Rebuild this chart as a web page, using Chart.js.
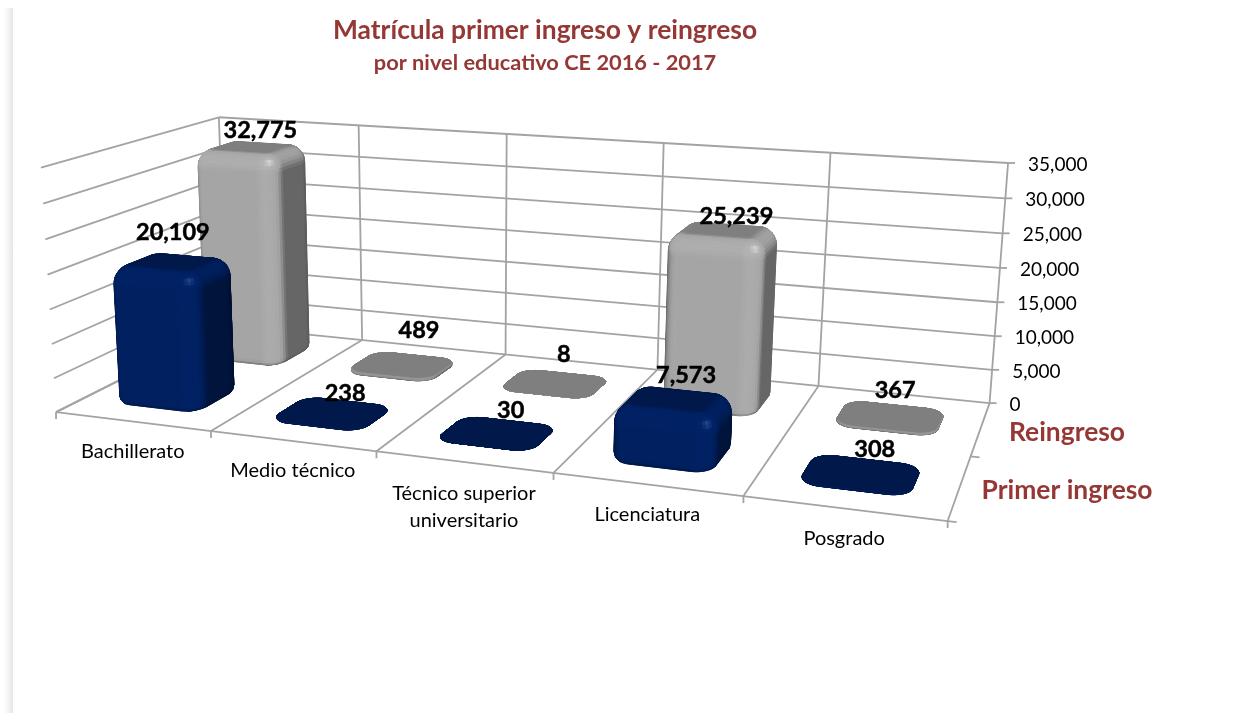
<!DOCTYPE html>
<html lang="es"><head><meta charset="utf-8">
<style>
html,body{margin:0;padding:0;background:#fff;width:1245px;height:713px;overflow:hidden}
#edge{position:absolute;left:4px;top:8px;width:8.5px;bottom:0;background:linear-gradient(to right,#ffffff,#e6e6e6)}
canvas{position:absolute;left:0;top:0}
</style></head><body>
<div id="edge"></div>
<canvas id="c" width="1245" height="713"></canvas>
<script src="https://cdn.jsdelivr.net/npm/chart.js@4"></script>
<script>
const categories = [['Bachillerato'],['Medio técnico'],['Técnico superior','universitario'],['Licenciatura'],['Posgrado']];
const primerIngreso = [20109,238,30,7573,308];
const reingreso = [32775,489,8,25239,367];
const valueTicks = [0,5000,10000,15000,20000,25000,30000,35000];
const seriesNames = ['Primer ingreso','Reingreso'];
const seriesColors = ['#002060','#a5a5a5'];
const titleText = 'Matrícula primer ingreso y reingreso';
const subtitleText = 'por nivel educativo CE 2016 - 2017';
/* hand placement of the value labels relative to each bar top: [dx, dy] per series */
const labelNudge = [
 [[1,-29],[13,-19],[14,-23],[12,-24],[14,-24]],
 [[9,-17],[17,-34],[9,-29],[13,-14],[5,-26]]
];

/* Frame of the 3-D box on the page: [u, depth, height, screenX, screenY] */
const frame = [
 [0,0,0,57,412],[.2,0,0,212,431],[.4,0,0,377,451],[.6,0,0,553,473],[.8,0,0,743,496],[1,0,0,948,521],
 [0,1,0,224,326],[.2,1,0,363,340],[.4,1,0,507,355],[.6,1,0,654,370],[.8,1,0,820,386],[1,1,0,990,403],
 [0,1,1,220,118],[.2,1,1,360,125],[.4,1,1,507,133],[.6,1,1,663,143],[.8,1,1,830,153],[1,1,1,1008,163],
 [0,0,1,39,168]
];
function fitProjection(pts){
  const n=11,A=Array.from({length:n},()=>Array(n+1).fill(0));
  const add=(r,b)=>{for(let i=0;i<n;i++){for(let j=0;j<n;j++)A[i][j]+=r[i]*r[j];A[i][n]+=r[i]*b;}};
  pts.forEach(([u,d,h,x,y])=>{
    add([u,d,h,1,0,0,0,0,-x*u,-x*d,-x*h],x);
    add([0,0,0,0,u,d,h,1,-y*u,-y*d,-y*h],y);
  });
  for(let i=0;i<n;i++){
    let p=i;for(let r=i+1;r<n;r++)if(Math.abs(A[r][i])>Math.abs(A[p][i]))p=r;
    [A[i],A[p]]=[A[p],A[i]];
    for(let r=0;r<n;r++)if(r!==i){const f=A[r][i]/A[i][i];for(let c=i;c<=n;c++)A[r][c]-=f*A[i][c];}
  }
  return A.map((r,i)=>r[n]/r[i]);
}
const M=fitProjection(frame);
function P(u,d,h){
  const w=M[8]*u+M[9]*d+M[10]*h+1;
  return {x:(M[0]*u+M[1]*d+M[2]*h+M[3])/w,y:(M[4]*u+M[5]*d+M[6]*h+M[7])/w};
}
const hex=c=>[1,3,5].map(i=>parseInt(c.substr(i,2),16));
function shade(rgb,nx,ny,nz,flat){
  let I=(ny<0?-ny:0)+(nz>0?nz*.77:-nz*.15)+(nx>0?nx*.62:-nx*.2);
  if(I>1)I=1+(I-1)*.22;
  if(flat)I=.77+(I-.77)*.5;
  const s=Math.max(0,(nx-ny+nz)*.577),sp=flat?0:Math.pow(s,60)*.24*255;
  return `rgb(${rgb.map(v=>Math.min(255,Math.round(v*I+sp))).join(',')})`;
}
function drawBar(ctx,u0,u1,d0,d1,h0,h1,color){
  const rgb=hex(color),H=h1-h0,flat=H<.03;
  if(flat){const t=(d1-d0)*.07;d0+=t;d1-=t;}
  const ru=(u1-u0)*.2,rd=(d1-d0)*.27,rv0=.075;
  const rv=Math.min(rv0,H/2),b=.86*Math.min(1,H/(2*rv0));
  const rvB=Math.min(.03,H/2);
  const SEG=9,PH=8,rings=[];
  const add=(z,phi,bev)=>{
    const s=1-bev*(1-Math.cos(phi)),pts=[],nrm=[];
    [[u1-ru,d0+rd,-Math.PI/2],[u1-ru,d1-rd,0],[u0+ru,d1-rd,Math.PI/2],[u0+ru,d0+rd,Math.PI]].forEach(([cu,cd,a])=>{
      for(let k=0;k<=SEG;k++){
        const t=a+k/SEG*Math.PI/2,ct=Math.cos(t),st=Math.sin(t);
        pts.push(P(cu+ru*s*ct,cd+rd*s*st,z));
        nrm.push([Math.cos(phi)*ct,Math.cos(phi)*st,Math.sin(phi)]);
      }
    });
    rings.push({pts,nrm});
  };
  for(let k=0;k<=3;k++){const p=-Math.PI/2+k/3*Math.PI/2;add(h0+rvB*(1+Math.sin(p)),p,b*.3);}
  for(let k=0;k<=PH;k++){const p=k/PH*Math.PI/2;add(h1-rv*(1-Math.sin(p)),p,b);}
  ctx.save();ctx.lineJoin='round';
  const poly=(q,c,w)=>{
    let area=0;q.forEach((a,i)=>{const e=q[(i+1)%q.length];area+=a.x*e.y-e.x*a.y;});
    if(area>=0)return;
    ctx.beginPath();q.forEach((a,i)=>i?ctx.lineTo(a.x,a.y):ctx.moveTo(a.x,a.y));ctx.closePath();
    ctx.lineWidth=w;ctx.fillStyle=c;ctx.strokeStyle=c;ctx.fill();ctx.stroke();
  };
  const base=shade(rgb,0,0,1);
  for(let pass=0;pass<2;pass++){
    for(let r=0;r<rings.length-1;r++){
      const A=rings[r],B=rings[r+1],L=A.pts.length;
      for(let i=0;i<L;i++){
        const j=(i+1)%L,n=[0,1,2].map(k=>(A.nrm[i][k]+A.nrm[j][k]+B.nrm[i][k]+B.nrm[j][k])/4);
        poly([A.pts[i],A.pts[j],B.pts[j],B.pts[i]],pass?shade(rgb,n[0],n[1],n[2],flat):base,pass?.9:1);
      }
    }
    poly(rings[rings.length-1].pts,base,pass?.9:1);
  }
  ctx.restore();
}
const box3d={
  id:'box3d',
  beforeDatasetsDraw(chart){
    const ctx=chart.ctx,a=chart.chartArea,xs=chart.scales.x,ys=chart.scales.y;
    const U=px=>(px-a.left)/(a.right-a.left),Hh=py=>(a.bottom-py)/(a.bottom-a.top);
    const n=categories.length;
    const cat=i=>U(xs.getPixelForValue(i)-(xs.getPixelForValue(1)-xs.getPixelForValue(0))/2);
    const line=(p,q)=>{ctx.beginPath();ctx.moveTo(p.x,p.y);ctx.lineTo(q.x,q.y);ctx.stroke();};
    ctx.save();
    ctx.strokeStyle='#a3a3a3';ctx.lineWidth=1.8;ctx.lineCap='butt';
    ys.ticks.forEach(t=>{
      const h=Hh(ys.getPixelForValue(t.value));
      const R=P(1,1,h);
      line(P(0,0,h),P(0,1,h));line(P(0,1,h),R);line(R,{x:R.x+7,y:R.y});
    });
    for(let i=0;i<=n;i++){
      const u=i===n?1:cat(i);
      line(P(u,1,0),P(u,1,1));
      const f=P(u,0,0);
      line(f,P(u,1,0));
      line(f,{x:f.x,y:f.y+7});
    }
    line(P(0,0,0),P(1,0,0));
    [0,.5].forEach(d=>{const p=P(1,d,0);line(p,{x:p.x+9,y:p.y+1});});
    ctx.restore();
    const rowD=.54/2;
    [1,0].forEach(ds=>{
      const dc=(ds+.5)/2;
      chart.getDatasetMeta(ds).data.forEach(el=>{
        drawBar(ctx,U(el.x-el.width/2),U(el.x+el.width/2),dc-rowD/2,dc+rowD/2,Hh(el.base),Hh(el.y),seriesColors[ds]);
      });
    });
    ctx.save();ctx.textBaseline='middle';ctx.textAlign='left';
    ctx.fillStyle='#000';ctx.font='19px Lato';
    ys.ticks.forEach(t=>{
      const p=P(1,1,Hh(ys.getPixelForValue(t.value)));
      ctx.fillText(t.label,p.x+20,p.y+2);
    });
    ctx.textAlign='center';ctx.font='20px Lato';
    categories.forEach((lines,i)=>{
      const e=i===n-1?1:cat(i+1),p=P((cat(i)+e)/2,0,0);
      lines.forEach((l,k)=>ctx.fillText(l,p.x+.5,p.y+30+(lines.length>1?2:0)+k*27));
    });
    ctx.fillStyle='#953735';ctx.font='bold 26.4px Lato';
    seriesNames.forEach((s,i)=>{
      const p=P(1,(i+.5)/2,0);
      ctx.fillText(s,1067,p.y+3.5);
    });
    ctx.fillStyle='#000';ctx.strokeStyle='#000';ctx.lineWidth=.5;ctx.font='bold 23.5px Lato';
    [1,0].forEach(ds=>{
      const dc=(ds+.5)/2;
      chart.getDatasetMeta(ds).data.forEach((el,i)=>{
        const p=P(U(el.x),dc,Hh(el.y)),txt=chart.data.datasets[ds].data[i].toLocaleString('en-US');
        const [dx,dy]=labelNudge[ds][i];
        ctx.fillText(txt,p.x+dx,p.y+dy);ctx.strokeText(txt,p.x+dx,p.y+dy);
      });
    });
    ctx.restore();
    return false;
  }
};
new Chart(document.getElementById('c'),{
  type:'bar',
  data:{labels:categories,datasets:[
    {label:seriesNames[0],data:primerIngreso,backgroundColor:seriesColors[0]},
    {label:seriesNames[1],data:reingreso,backgroundColor:seriesColors[1]}
  ]},
  options:{
    responsive:false,animation:false,locale:'en-US',
    layout:{padding:{right:155,left:0,top:0,bottom:0}},
    datasets:{bar:{grouped:false,barPercentage:.56,categoryPercentage:1}},
    scales:{
      x:{display:false,offset:true},
      y:{display:false,min:valueTicks[0],max:valueTicks[valueTicks.length-1],ticks:{stepSize:valueTicks[1]-valueTicks[0]}}
    },
    plugins:{
      legend:{display:false},tooltip:{enabled:false},
      title:{display:true,text:titleText,color:'#953735',font:{family:'Lato',size:26.4,weight:'bold'},padding:{top:15,bottom:2}},
      subtitle:{display:true,text:subtitleText,color:'#953735',font:{family:'Lato',size:21.8,weight:'bold'},padding:{top:1,bottom:10}}
    }
  },
  plugins:[box3d]
});
</script>
</body></html>
